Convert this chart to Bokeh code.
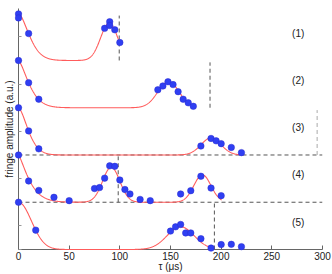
import numpy as np
from bokeh.plotting import figure
from bokeh.models import Range1d, FixedTicker, Label, ColumnDataSource
from bokeh.embed import file_html
from bokeh.resources import INLINE

# ---- data ----
trace_names = ["(1)", "(2)", "(3)", "(4)", "(5)"]
offsets = [4, 3, 2, 1, 0]

t1 = [0, 0, 10, 85, 90, 90, 95, 100]
a1 = [0.985, 0.90, 0.57, 0.68, 0.82, 0.74, 0.65, 0.38]
t2 = [0, 10, 20, 137.5, 142.5, 147.5, 152.5, 157.5, 162.5, 167.5, 172.5]
a2 = [1.0, 0.53, 0.18, 0.38, 0.46, 0.55, 0.49, 0.34, 0.18, 0.105, 0.03]
t3 = [0, 10, 20, 180, 190, 195, 200, 210, 220]
a3 = [1.0, 0.51, 0.13, 0.19, 0.35, 0.30, 0.24, 0.16, 0.05]
t4 = [0, 10, 20, 35, 50, 75, 80, 85, 90, 95, 100, 105, 110, 120, 130, 160, 170, 180, 190, 200]
a4 = [1.0, 0.45, 0.25, 0.105, 0.034, 0.29, 0.31, 0.51, 0.77, 0.76, 0.47, 0.27, 0.175, 0.06, 0.034,
      0.175, 0.245, 0.55, 0.30, 0.14]
t5 = [0, 17, 150, 155, 160, 165, 170, 180, 190, 200, 210, 220]
a5 = [1.0, 0.41, 0.39, 0.48, 0.53, 0.35, 0.35, 0.23, 0.03, 0.105, 0.11, 0.06]

decay_tau = [14.3, 13.7, 12.8, 13.3, 18.0]
decay_pow = [1.6, 1.45, 1.6, 1.3, 2.0]
revivals = [
    [(0.79, 89.5, 12.0)],
    [(0.55, 148.0, 15.0)],
    [(0.36, 190.0, 14.0)],
    [(0.74, 91.5, 12.0), (0.58, 181.5, 12.0)],
    [(0.48, 160.0, 19.0)],
]
curve_end = [100.4, 172.5, 221, 200.5, 190.4]

vline_x = [99.4, 189, 294.7, 98.4, 193.3]
vline_top = [0.95, 0.96, 0.95, 0.97, 1.0]
hline_y = [2, 1]

x_ticks = [0, 50, 100, 150, 200, 250, 300]
y_ticks = [0, 0.5, 1, 1.5, 2, 2.5, 3, 3.5, 4, 4.5, 5]

FONT = "Liberation Sans"
RED = "#ff5c5c"
BLUE = "#2f3ff2"
DASH = "#555555"

p = figure(width=332, height=274, x_range=Range1d(0, 300), y_range=Range1d(0, 5.1),
           output_backend="svg", toolbar_location=None,
           min_border_left=17, min_border_right=10, min_border_top=8, min_border_bottom=24)
p.outline_line_color = None
p.grid.visible = False
p.background_fill_color = "white"
p.border_fill_color = "white"

p.xaxis.ticker = FixedTicker(ticks=x_ticks)
p.xaxis.major_tick_in = 4
p.xaxis.major_tick_out = 0
p.xaxis.minor_tick_line_color = None
p.xaxis.axis_line_color = "#666666"
p.xaxis.major_tick_line_color = "#666666"
p.xaxis.major_label_text_font = FONT
p.xaxis.major_label_text_font_size = "10px"
p.xaxis.major_label_text_color = "#222222"
p.xaxis.major_label_standoff = 2
p.xaxis.axis_label = "τ (μs)"
p.xaxis.axis_label_text_font = FONT
p.xaxis.axis_label_text_font_size = "10px"
p.xaxis.axis_label_text_font_style = "normal"
p.xaxis.axis_label_text_color = "#222222"
p.xaxis.axis_label_standoff = -2

p.yaxis.ticker = FixedTicker(ticks=y_ticks)
p.yaxis.major_tick_in = 3
p.yaxis.major_tick_out = 0
p.yaxis.minor_tick_line_color = None
p.yaxis.axis_line_color = "#666666"
p.yaxis.major_tick_line_color = "#999999"
p.yaxis.major_label_overrides = {t: "" for t in y_ticks}
p.yaxis.major_label_standoff = 0
p.yaxis.axis_label = "fringe amplitude (a.u.)"
p.yaxis.axis_label_text_font = FONT
p.yaxis.axis_label_text_font_size = "10px"
p.yaxis.axis_label_text_font_style = "normal"
p.yaxis.axis_label_text_color = "#222222"
p.yaxis.axis_label_standoff = 4

for hy in hline_y:
    p.line(x=[0, 300], y=[hy, hy], line_color=DASH, line_dash="4 3", line_width=1)

for i, off in enumerate(offsets):
    col = "#aaaaaa" if i == 2 else DASH
    p.line(x=[vline_x[i], vline_x[i]], y=[off, off + vline_top[i]],
           line_color=col, line_dash="4 3", line_width=1)

for i, off in enumerate(offsets):
    t = np.linspace(0, curve_end[i], 500)
    y = np.exp(-(t / decay_tau[i]) ** decay_pow[i])
    for (amp, c, w) in revivals[i]:
        y = y + amp * np.exp(-((t - c) / w) ** 2)
    p.line(x=t, y=y + off, line_color=RED, line_width=1.1, level="overlay")

ts = [t1, t2, t3, t4, t5]
amps = [a1, a2, a3, a4, a5]
for i, off in enumerate(offsets):
    src = ColumnDataSource(dict(t=ts[i], y=[a + off for a in amps[i]]))
    p.scatter(x="t", y="y", source=src, size=6.5, fill_color=BLUE, line_color="#2a2ad0",
              line_width=0.5, level="overlay")

for i, off in enumerate(offsets):
    p.add_layout(Label(x=276, y=off + 0.58, text=trace_names[i], text_align="center",
                       text_baseline="middle", text_font=FONT, text_font_size="10px",
                       text_color="#222222"))

open("out.html", "w").write(file_html(p, INLINE))
